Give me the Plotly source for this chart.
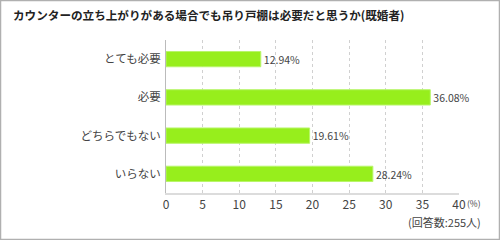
import plotly.graph_objects as go

categories = ["とても必要", "必要", "どちらでもない", "いらない"]
values = [12.94, 36.08, 19.61, 28.24]
labels = ["12.94%", "36.08%", "19.61%", "28.24%"]
title = "カウンターの立ち上がりがある場合でも吊り戸棚は必要だと思うか(既婚者)"
note = "(回答数:255人)"
tick_vals = [0, 5, 10, 15, 20, 25, 30, 35, 40]

FONT = "Noto Sans CJK JP"

fig = go.Figure(go.Bar(
    x=values, y=categories, orientation="h",
    marker=dict(color="#97ee1c", line=dict(color="#b8f56a", width=1)),
    width=0.4,
    text=labels, textposition="outside", cliponaxis=False,
    textfont=dict(family=FONT, size=11, color="#444"),
    hoverinfo="skip",
))

fig.update_layout(
    width=500, height=240,
    margin=dict(l=166, r=41, t=40, b=47),
    paper_bgcolor="white", plot_bgcolor="white",
    showlegend=False,
    xaxis=dict(range=[0, 40], tickvals=tick_vals, ticktext=[str(v) for v in tick_vals],
               showgrid=True, gridcolor="#d0d0d0", griddash="dot", gridwidth=1,
               zeroline=False, showline=True, linecolor="#dcdcdc", linewidth=2,
               ticks="", tickfont=dict(family=FONT, size=12, color="#444"),
               fixedrange=True),
    yaxis=dict(autorange="reversed", showline=True, linecolor="#bbbbbb", linewidth=1,
               ticks="", ticklabelstandoff=2, showgrid=False,
               tickfont=dict(family=FONT, size=11.5, color="#444"), fixedrange=True),
    font=dict(family=FONT),
    annotations=[
        dict(text=title, xref="paper", yref="paper", x=-166/293, y=1, xshift=11, yshift=25,
             xanchor="left", yanchor="middle", showarrow=False,
             font=dict(family=FONT, size=11.6, color="#222", weight="bold")),
        dict(text="(%)", xref="x", yref="paper", x=40, y=0, xshift=6, yshift=-10,
             xanchor="left", yanchor="middle", showarrow=False,
             font=dict(family=FONT, size=8.5, color="#444")),
        dict(text=note, xref="paper", yref="paper", x=1, y=0, xshift=24, yshift=-29,
             xanchor="right", yanchor="middle", showarrow=False,
             font=dict(family=FONT, size=11, color="#444")),
    ],
)

# outer border of the whole picture
fig.add_shape(type="rect", xref="paper", yref="paper",
              x0=-166/293 + 0.5/293, x1=1 + 40.5/293, y0=-46.5/153, y1=1 + 39.5/153,
              line=dict(color="#b0b0b0", width=1.5), layer="above")

fig.write_html("out.html")
